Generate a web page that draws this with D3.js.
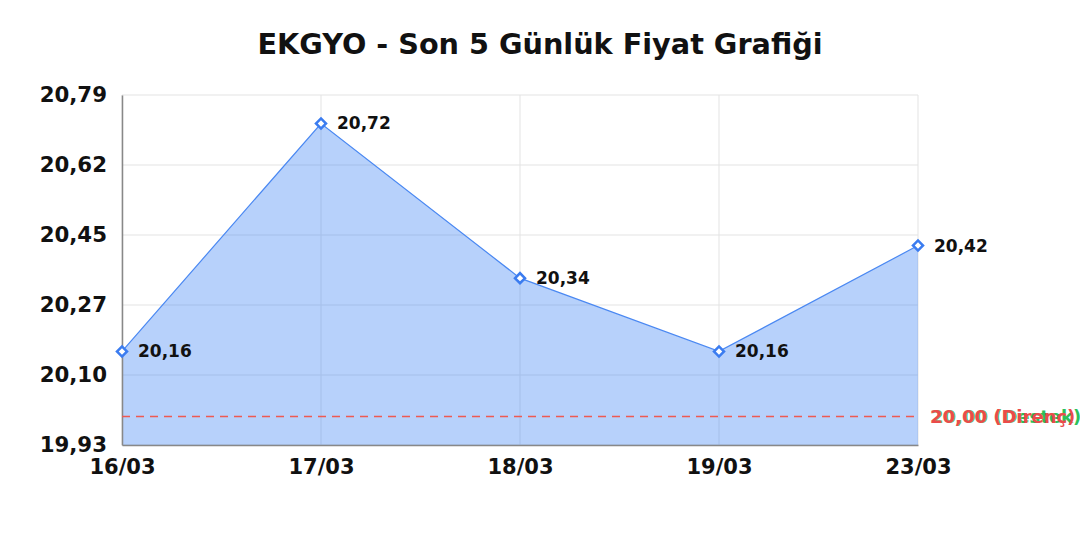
<!DOCTYPE html>
<html><head><meta charset="utf-8">
<script src="https://cdn.jsdelivr.net/npm/d3@7/dist/d3.min.js"></script>
<style>
html,body{margin:0;padding:0;background:#fff;}
svg{display:block;font-family:"DejaVu Sans",sans-serif;}
</style></head>
<body><svg id="c" width="1080" height="540"></svg>
<script>
const title = "EKGYO - Son 5 Günlük Fiyat Grafiği";
const categories = ["16/03","17/03","18/03","19/03","23/03"];
const prices = [20.16, 20.72, 20.34, 20.16, 20.42];
const yTicks = [19.93, 20.102, 20.274, 20.446, 20.618, 20.79];
const yDomain = [19.93, 20.79];
const supportLevel = 20.00;
const resistanceLevel = 20.00;
const supportLabel = "20,00 (Destek)";
const resistanceLabel = "20,00 (Direnç)";

const svg = d3.select("#c");
const m = {left:122, right:918, top:95, bottom:445};
const fmt = v => d3.format(".2f")(v).replace(".", ",");

const x = d3.scalePoint().domain(categories).range([m.left, m.right]);
const y = d3.scaleLinear().domain(yDomain).range([m.bottom, m.top]);

// title
svg.append("text").attr("x", 540).attr("y", 54).attr("text-anchor","middle")
  .attr("font-size", 28.7).attr("font-weight","bold").attr("fill","#111").text(title);

// grid
const g = svg.append("g");
g.selectAll("line.h").data(yTicks).enter().append("line")
  .attr("x1", m.left).attr("x2", m.right)
  .attr("y1", d=>y(d)).attr("y2", d=>y(d))
  .attr("stroke","#e3e3e3").attr("stroke-width",1);
g.selectAll("line.v").data(categories).enter().append("line")
  .attr("x1", d=>x(d)).attr("x2", d=>x(d))
  .attr("y1", m.top).attr("y2", m.bottom)
  .attr("stroke","#e3e3e3").attr("stroke-width",1);

const data = categories.map((c,i)=>({c, v:prices[i]}));

// area
const area = d3.area().x(d=>x(d.c)).y0(y(yDomain[0])).y1(d=>y(d.v));
svg.append("path").datum(data).attr("d", area).attr("fill","rgba(66,133,244,0.38)");
const line = d3.line().x(d=>x(d.c)).y(d=>y(d.v));
svg.append("path").datum(data).attr("d", line).attr("fill","none")
  .attr("stroke","#4a88f2").attr("stroke-width",1.2);

// axes
const yAxis = d3.axisLeft(y).tickValues(yTicks).tickFormat(fmt).tickSize(0).tickPadding(15);
const ya = svg.append("g").attr("transform",`translate(${m.left},0)`).call(yAxis);
ya.select(".domain").attr("stroke","#888").attr("stroke-width",1.5);
ya.selectAll("text").attr("font-size",21.3).attr("font-weight","bold").attr("fill","#111")
  .attr("font-family","DejaVu Sans");

const xAxis = d3.axisBottom(x).tickSize(0).tickPadding(14);
const xa = svg.append("g").attr("transform",`translate(0,${m.bottom})`).call(xAxis);
xa.select(".domain").attr("stroke","#888").attr("stroke-width",1.5);
xa.selectAll("text").attr("font-size",21).attr("font-weight","bold").attr("fill","#111")
  .attr("font-family","DejaVu Sans");

// reference lines
svg.append("line").attr("x1",m.left).attr("x2",m.right)
  .attr("y1",y(resistanceLevel)).attr("y2",y(resistanceLevel))
  .attr("stroke","#ee5a52").attr("stroke-width",1.5).attr("stroke-dasharray","8,6");
svg.append("text").attr("x", m.right+13).attr("y", y(supportLevel)).attr("dy","0.35em")
  .attr("font-size",18).attr("font-weight","bold").attr("fill","#2ec05a").text(supportLabel);
svg.append("text").attr("x", m.right+12).attr("y", y(resistanceLevel)).attr("dy","0.35em")
  .attr("font-size",18).attr("font-weight","bold").attr("fill","#ea4b4b").text(resistanceLabel);

// markers
const sym = d3.symbol().type(d3.symbolSquare).size(50);
svg.selectAll("path.mk").data(data).enter().append("path")
  .attr("d", sym)
  .attr("transform", d=>`translate(${x(d.c)},${y(d.v)}) rotate(45)`)
  .attr("fill","#fff").attr("stroke","#3b7cf0").attr("stroke-width",2.5);

// data labels
svg.selectAll("text.dl").data(data).enter().append("text")
  .attr("x", d=>x(d.c)+16).attr("y", d=>y(d.v)).attr("dy","0.35em")
  .attr("font-size",17).attr("font-weight","bold").attr("fill","#111")
  .text(d=>fmt(d.v));
</script></body></html>
